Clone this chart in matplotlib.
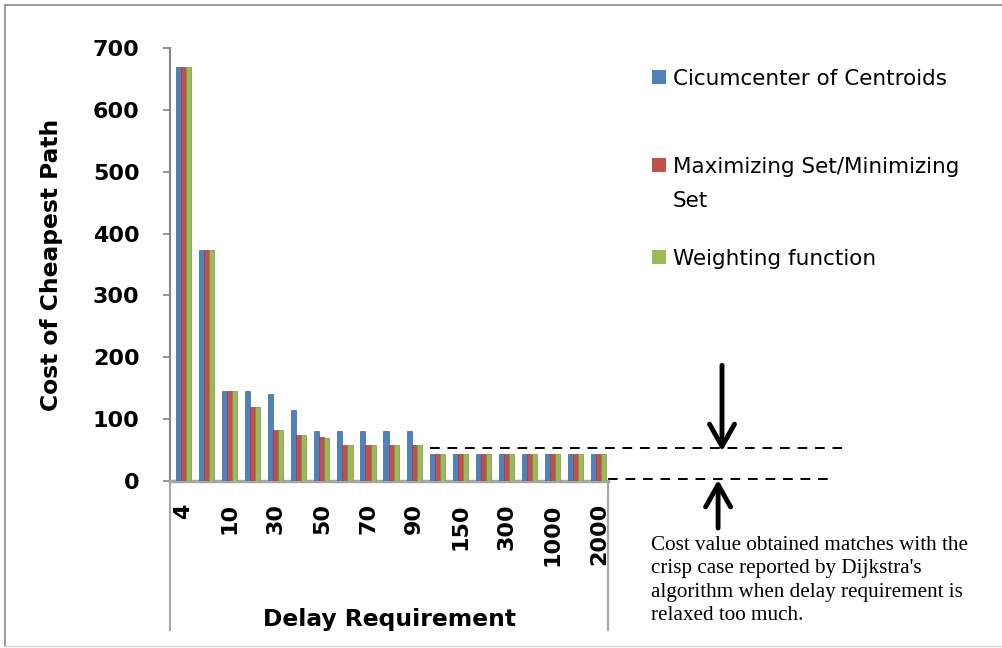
import numpy as np
import matplotlib.pyplot as plt
from matplotlib.lines import Line2D
from matplotlib.patches import Rectangle

# delay requirement categories (only every other one gets a label)
delays = ["4", "8", "10", "20", "30", "40", "50", "60", "70", "80",
          "90", "100", "150", "200", "300", "500", "1000", "1500", "2000"]

circumcenter = [670, 373, 146, 146, 140, 115, 81, 81, 81, 81, 81,
                44, 44, 44, 44, 44, 44, 44, 44]
maxmin_set = [670, 373, 146, 119, 82, 75, 71, 58, 58, 58, 58,
              44, 44, 44, 44, 44, 44, 44, 44]
weighting = [670, 373, 146, 119, 82, 75, 70, 58, 58, 58, 58,
             44, 44, 44, 44, 44, 44, 44, 44]

series_names = ["Cicumcenter of Centroids",
                "Maximizing Set/Minimizing\nSet",
                "Weighting function"]
colors = ["#4F81BD", "#C0504D", "#9BBB59"]
edges = ["#3A6493", "#963C3A", "#789244"]

crisp_cost = 53  # level marked by the upper dashed line

W, H = 1002, 648
fig = plt.figure(figsize=(W / 100, H / 100), dpi=100)
ax = fig.add_axes([170 / W, 1 - 481 / H, 438 / W, 433 / H])

x = np.arange(len(delays))
bw = 0.22
for k, vals in enumerate([circumcenter, maxmin_set, weighting]):
    ax.bar(x + (k - 1) * bw, vals, width=bw, color=colors[k],
           edgecolor=edges[k], linewidth=0.5, zorder=3)

ax.set_xlim(-0.58, 18.4)
ax.set_ylim(0, 700)
ax.set_yticks(range(0, 701, 100))
ax.set_xticks(x[::2])
ax.set_xticklabels(delays[::2], rotation=90)

for s in ["top", "right"]:
    ax.spines[s].set_visible(False)
ax.spines["left"].set_color("#868686")
ax.spines["left"].set_linewidth(1.5)
ax.spines["bottom"].set_color("#A6A6A6")
ax.spines["bottom"].set_linewidth(2.5)

ax.tick_params(axis="y", direction="out", length=5, width=1.2, color="#868686",
               pad=17, labelsize=16)
ax.tick_params(axis="x", length=0, pad=16, labelsize=16)
for lab in ax.get_xticklabels() + ax.get_yticklabels():
    lab.set_fontweight("bold")

ax.set_ylabel("Cost of Cheapest Path", fontsize=16.8, fontweight="bold")
ax.yaxis.set_label_coords(-0.244, 0.5)
ax.set_xlabel("Delay Requirement", fontsize=16.8, fontweight="bold")
ax.xaxis.set_label_coords(0.502, -0.293)

# long edge lines below the category axis
for xa in (0, 1):
    ax.add_line(Line2D([xa, xa], [0, -0.344], transform=ax.transAxes,
                       color="#A6A6A6", lw=1.5, clip_on=False))

# dashed guide lines and arrows
ax.plot([10.68, 28.56], [crisp_cost, crisp_cost], ls=(0, (5, 4)), color="black",
        lw=1.4, clip_on=False)
ax.plot([18.4, 28.2], [3, 3], ls=(0, (5, 4)), color="black", lw=1.4, clip_on=False)

arrow = dict(arrowstyle="->,head_length=1.6,head_width=0.9", lw=3.5,
             color="black", shrinkA=0, shrinkB=0)
ax.annotate("", xy=(23.34, 48), xytext=(23.34, 187), arrowprops=arrow,
            annotation_clip=False)
ax.annotate("", xy=(23.17, 2), xytext=(23.17, -76), arrowprops=arrow,
            annotation_clip=False)

fig.text(651 / W, 1 - 536 / H,
         "Cost value obtained matches with the\ncrisp case reported by Dijkstra's\n"
         "algorithm when delay requirement is\nrelaxed too much.",
         family="Liberation Serif", fontsize=15.2, va="top", ha="left",
         linespacing=1.32)

# legend: colour square beside the first line of each entry
baselines = [85, 173, 265]
for name, c, b in zip(series_names, colors, baselines):
    fig.patches.append(Rectangle((652 / W, 1 - (b - 1) / H), 14 / W, 14 / H,
                                 transform=fig.transFigure, facecolor=c,
                                 edgecolor="none"))
    for i, line in enumerate(name.split("\n")):
        fig.text(673 / W, 1 - (b + 34 * i) / H, line, fontsize=15.5,
                 va="baseline", ha="left")

# chart frame
fig.add_artist(Line2D([5 / W, 5 / W], [1 - 5 / H, 1 - 646 / H],
                      transform=fig.transFigure, color="#8C8C8C", lw=1.2))
fig.add_artist(Line2D([5 / W, 1], [1 - 5 / H, 1 - 5 / H],
                      transform=fig.transFigure, color="#8C8C8C", lw=1.2))
fig.add_artist(Line2D([5 / W, 1], [1 - 646 / H, 1 - 646 / H],
                      transform=fig.transFigure, color="#D9D9D9", lw=1.0))

fig.savefig("out.png", dpi=100)
